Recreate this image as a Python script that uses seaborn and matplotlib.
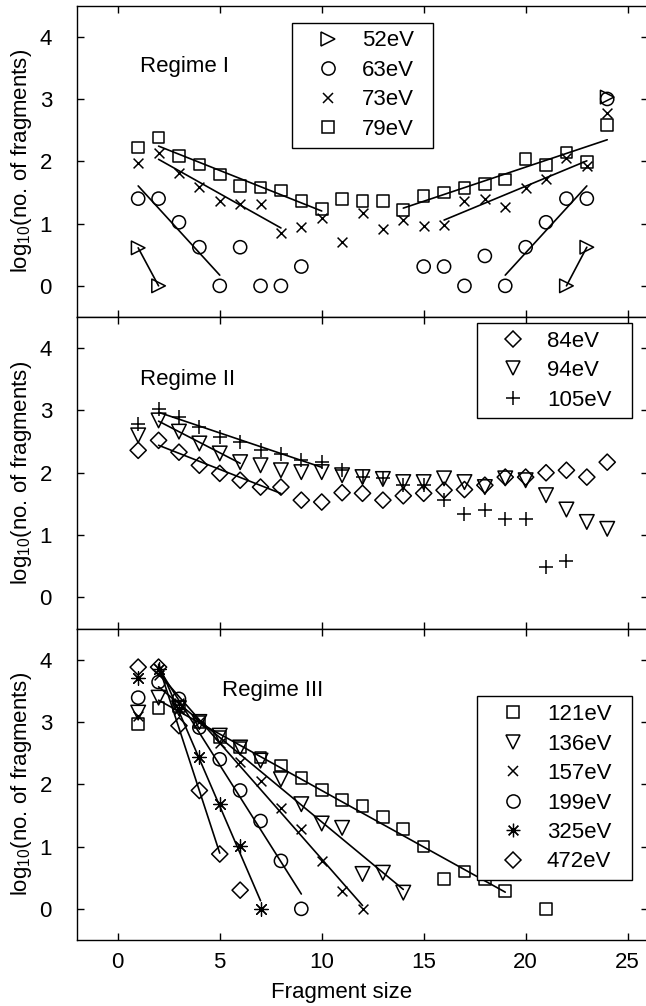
import numpy as np
import matplotlib
matplotlib.use("Agg")
import matplotlib.pyplot as plt
import seaborn as sns
from matplotlib.lines import Line2D

# ---------------- data (log10 of number of fragments) ----------------
# Regime I
x_52 = [1, 2, 22, 23, 24]
y_52 = [0.61, 0.0, 0.0, 0.62, 3.03]
x_63 = [1, 2, 3, 4, 5, 6, 7, 8, 9, 15, 16, 17, 18, 19, 20, 21, 22, 23, 24]
y_63 = [1.40, 1.40, 1.02, 0.62, 0.0, 0.62, 0.0, 0.0, 0.31, 0.31, 0.31, 0.0,
        0.48, 0.0, 0.62, 1.02, 1.40, 1.40, 3.00]
x_73 = list(range(1, 25))
y_73 = [1.97, 2.14, 1.81, 1.58, 1.36, 1.31, 1.31, 0.85, 0.95, 1.09, 0.70, 1.17,
        0.91, 1.06, 0.96, 0.97, 1.36, 1.39, 1.27, 1.57, 1.71, 2.06, 1.92, 2.78]
x_79 = list(range(1, 25))
y_79 = [2.22, 2.38, 2.08, 1.95, 1.79, 1.60, 1.58, 1.53, 1.36, 1.23, 1.39, 1.36,
        1.36, 1.22, 1.44, 1.50, 1.57, 1.63, 1.71, 2.04, 1.94, 2.14, 1.99, 2.58]

# Regime II
x_84 = list(range(1, 25))
y_84 = [2.36, 2.52, 2.33, 2.12, 1.99, 1.88, 1.77, 1.77, 1.56, 1.53, 1.68, 1.67,
        1.56, 1.63, 1.67, 1.72, 1.73, 1.80, 1.93, 1.93, 2.00, 2.04, 1.93, 2.17]
x_94 = list(range(1, 25))
y_94 = [2.60, 2.84, 2.66, 2.47, 2.31, 2.17, 2.12, 2.04, 2.01, 2.01, 1.96, 1.93,
        1.90, 1.85, 1.85, 1.91, 1.85, 1.77, 1.91, 1.88, 1.64, 1.41, 1.21, 1.10]
x_105 = list(range(1, 23))
y_105 = [2.79, 3.03, 2.90, 2.73, 2.58, 2.49, 2.36, 2.30, 2.20, 2.17, 2.04, 1.93,
         1.91, 1.80, 1.80, 1.56, 1.34, 1.40, 1.26, 1.26, 0.48, 0.59]

# Regime III
x_121 = list(range(1, 20)) + [21]
y_121 = [2.97, 3.22, 3.25, 3.00, 2.76, 2.59, 2.43, 2.30, 2.10, 1.91, 1.75, 1.65,
         1.47, 1.28, 1.00, 0.48, 0.60, 0.48, 0.29, 0.0]
x_136 = list(range(1, 15))
y_136 = [3.15, 3.39, 3.22, 3.00, 2.78, 2.59, 2.38, 2.08, 1.68, 1.37, 1.30, 0.56,
         0.58, 0.26]
x_157 = list(range(1, 13))
y_157 = [3.10, 3.75, 3.30, 3.00, 2.67, 2.35, 2.06, 1.62, 1.28, 0.77, 0.29, 0.0]
x_199 = list(range(1, 10))
y_199 = [3.39, 3.64, 3.37, 2.91, 2.40, 1.90, 1.41, 0.77, 0.0]
x_325 = list(range(1, 8))
y_325 = [3.70, 3.85, 3.20, 2.43, 1.68, 1.01, 0.0]
x_472 = list(range(1, 7))
y_472 = [3.88, 3.88, 2.94, 1.90, 0.88, 0.30]

# linear fit ranges (first, last fragment size) for each series
fit_52 = [(1, 2), (22, 23)]
fit_63 = [(1, 5), (19, 23)]
fit_73 = [(2, 8), (16, 23)]
fit_79 = [(2, 10), (14, 24)]
fit_84 = [(2, 8)]
fit_94 = [(2, 6)]
fit_105 = [(2, 10)]
fit_121 = [(2, 19)]
fit_136 = [(2, 14)]
fit_157 = [(2, 12)]
fit_199 = [(2, 9)]
fit_325 = [(2, 7)]
fit_472 = [(2, 5)]

x_ticks = [0, 5, 10, 15, 20, 25]
y_ticks = [0, 1, 2, 3, 4]

# ---------------- style ----------------
sns.set_theme(style="ticks", rc={
    "axes.edgecolor": "black", "text.color": "black",
    "axes.labelcolor": "black", "xtick.color": "black",
    "ytick.color": "black", "axes.linewidth": 1.0,
})
plt.rcParams['font.family'] = ['Liberation Sans', 'DejaVu Sans']
FS = 16

ASTER = (8, 2, 0)
UNFILLED = {'x', '+', ASTER}

# (label, x, y, marker, size s, fits)
panels = [
    [("52eV", x_52, y_52, '>', 95, fit_52),
     ("63eV", x_63, y_63, 'o', 90, fit_63),
     ("73eV", x_73, y_73, 'x', 50, fit_73),
     ("79eV", x_79, y_79, 's', 70, fit_79)],
    [("84eV", x_84, y_84, 'D', 68, fit_84),
     ("94eV", x_94, y_94, 'v', 110, fit_94),
     ("105eV", x_105, y_105, '+', 95, fit_105)],
    [("121eV", x_121, y_121, 's', 70, fit_121),
     ("136eV", x_136, y_136, 'v', 110, fit_136),
     ("157eV", x_157, y_157, 'x', 50, fit_157),
     ("199eV", x_199, y_199, 'o', 90, fit_199),
     ("325eV", x_325, y_325, ASTER, 95, fit_325),
     ("472eV", x_472, y_472, 'D', 68, fit_472)],
]
regimes = [("Regime I", 1.08, 3.52), ("Regime II", 1.08, 3.49),
           ("Regime III", 5.1, 3.50)]
# legend boxes in axes coords (x0, y0, w, h)
leg_boxes = [(0.3765, 0.559, 0.247, 0.386),
             (0.7005, 0.691, 0.2715, 0.29),
             (0.7005, 0.218, 0.2715, 0.564)]

fig = plt.figure(figsize=(6.46, 10.06), dpi=100)
L, W = 77 / 646, 571 / 646
H = 311.5 / 1006
b3 = 66 / 1006
bottoms = [b3 + 2 * H, b3 + H, b3]

axes = []
for i, series in enumerate(panels):
    ax = fig.add_axes([L, bottoms[i], W, H])
    axes.append(ax)
    handles = []
    for label, xs, ys, mk, s, fits in series:
        xs_a = np.asarray(xs, float)
        ys_a = np.asarray(ys, float)
        for (a, b) in fits:
            m = (xs_a >= a) & (xs_a <= b)
            sns.regplot(x=xs_a[m], y=ys_a[m], scatter=False, ci=None,
                        truncate=True, color='black',
                        line_kws={'linewidth': 1.2}, ax=ax)
        lw = 0.9 if mk == ASTER else 1.1
        if mk in UNFILLED:
            sns.scatterplot(x=xs_a, y=ys_a, marker=mk, s=s, color='black',
                            linewidth=lw, ax=ax, zorder=3)
            handles.append(Line2D([], [], linestyle='none', marker=mk,
                                  markersize=np.sqrt(s), color='black',
                                  markeredgewidth=lw))
        else:
            sns.scatterplot(x=xs_a, y=ys_a, marker=mk, s=s,
                            facecolor='none', edgecolor='black',
                            linewidth=lw, ax=ax, zorder=3)
            handles.append(Line2D([], [], linestyle='none', marker=mk,
                                  markersize=np.sqrt(s),
                                  markerfacecolor='none',
                                  markeredgecolor='black',
                                  markeredgewidth=lw))
    labels = [t[0] for t in series]
    leg = ax.legend(handles, labels, loc='upper left',
                    bbox_to_anchor=leg_boxes[i], mode='expand',
                    borderaxespad=0, borderpad=0.35, handlelength=2.5,
                    handletextpad=0.3, labelspacing=0.38, fontsize=FS,
                    frameon=True, fancybox=False, framealpha=1,
                    edgecolor='black')
    leg.get_frame().set_linewidth(1.0)

    rt, rx, ry = regimes[i]
    ax.text(rx, ry, rt, fontsize=FS, ha='left', va='center')

    ax.set_xlim(-2, 26)
    ax.set_ylim(-0.5, 4.5)
    ax.set_xticks(x_ticks)
    ax.set_yticks(y_ticks)
    ax.tick_params(axis='both', direction='in', length=5, width=1.0,
                   top=True, right=True, labelsize=FS)
    ax.tick_params(axis='y', pad=18)
    ax.tick_params(axis='x', pad=9)
    ax.set_ylabel(r"log$_\mathregular{10}$(no. of fragments)", fontsize=FS)
    ax.yaxis.set_label_coords(-0.076, 0.5)
    if i < 2:
        ax.tick_params(axis='x', labelbottom=False)
        ax.set_xlabel("")
    for sp in ax.spines.values():
        sp.set_linewidth(1.0)
        sp.set_color('black')

axes[2].set_xlabel("Fragment size", fontsize=FS)
axes[2].xaxis.set_label_coords(0.464, -0.135)

fig.savefig("out.png", dpi=100)
